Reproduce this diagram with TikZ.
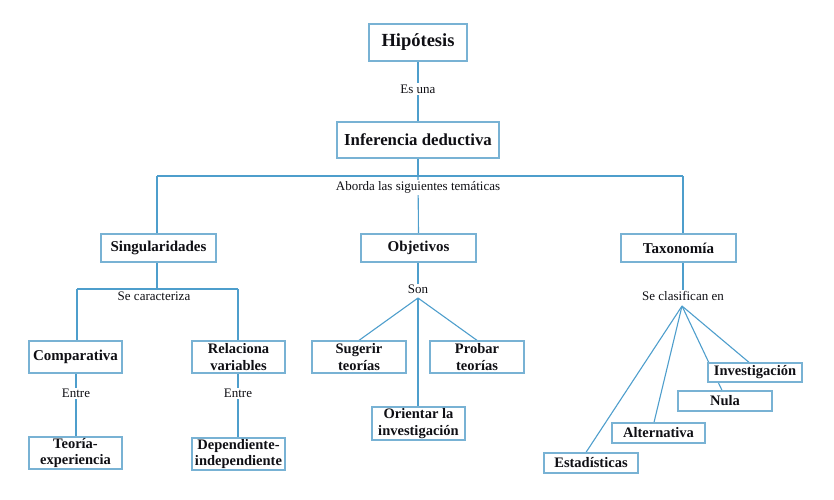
\documentclass[tikz,border=0pt]{standalone}
\usepackage{fontspec}
\setmainfont{Liberation Serif}
\usetikzlibrary{backgrounds,calc}
\definecolor{boxc}{RGB}{120,178,212}
\definecolor{linec}{RGB}{78,158,204}
\definecolor{txt}{RGB}{15,15,20}
\begin{document}
\begin{tikzpicture}[x=1pt,y=-1pt,
  box/.style={draw=boxc,line width=1.3pt,fill=white,inner sep=0pt,align=center,text=txt,
    font=\fontsize{15}{17.5}\selectfont\bfseries},
  twoline/.style={font=\fontsize{14.5}{16.2}\selectfont\bfseries},
  lbl/.style={fill=white,inner sep=1.5pt,text=txt,font=\fontsize{13}{15}\selectfont},
  conn/.style={draw=linec,line width=1.1pt}]
\useasboundingbox (0,0) rectangle (834,499);
% nodes
\node[box,minimum width=98pt,minimum height=37pt,font=\fontsize{18.5}{21}\selectfont\bfseries] (hip) at (418,42.5) {Hipótesis};
\node[box,minimum width=162pt,minimum height=36pt,font=\fontsize{16.8}{19}\selectfont\bfseries] (inf) at (418,140) {Inferencia deductiva};
\node[box,minimum width=115pt,minimum height=28pt] (sing) at (158.5,248) {Singularidades};
\node[box,minimum width=115pt,minimum height=28pt] (obj) at (418.5,248) {Objetivos};
\node[box,minimum width=115pt,minimum height=28pt] (tax) at (678.5,248) {Taxonomía};
\node[box,minimum width=93pt,minimum height=32pt] (comp) at (75.5,357) {Comparativa};
\node[box,twoline,minimum width=93pt,minimum height=32pt] (rel) at (238.5,357) {Relaciona\\variables};
\node[box,twoline,minimum width=93pt,minimum height=32pt] (teo) at (75.5,453) {Teoría-\\experiencia};
\node[box,twoline,minimum width=93pt,minimum height=32pt] (dep) at (238.5,454) {Dependiente-\\independiente};
\node[box,twoline,minimum width=94pt,minimum height=32pt] (sug) at (359,357) {Sugerir\\teorías};
\node[box,twoline,minimum width=94pt,minimum height=32pt] (prob) at (477,357) {Probar\\teorías};
\node[box,twoline,minimum width=93pt,minimum height=33pt] (ori) at (418.5,423.5) {Orientar la\\investigación};
\node[box,twoline,minimum width=94pt,minimum height=19pt] (inv) at (755,372.5) {Investigación};
\node[box,twoline,minimum width=94pt,minimum height=20pt] (nula) at (725,401) {Nula};
\node[box,twoline,minimum width=93pt,minimum height=20pt] (alt) at (658.5,433) {Alternativa};
\node[box,twoline,minimum width=94pt,minimum height=20pt] (est) at (591,463) {Estadísticas};
% labels
\node[lbl] (esuna) at (418,89) {Es una};
\node[lbl] (aborda) at (418,187.5) {Aborda las siguientes temáticas};
\node[lbl] (secar) at (154,296.5) {Se caracteriza};
\node[lbl] (entre1) at (76,393.5) {Entre};
\node[lbl] (entre2) at (238,393.5) {Entre};
\node[lbl,inner sep=0.5pt] (son) at (418,289.5) {Son};
\node[lbl,inner sep=0.5pt] (seclas) at (683,295.5) {Se clasifican en};
\coordinate (hbar1) at (418,176);
\coordinate (hL) at (157,176);
\coordinate (hR) at (683,176);
\coordinate (sbar) at (157,289);
\coordinate (sL) at (77,289);
\coordinate (sR) at (238,289);
\coordinate (sonp) at (418,298);
\coordinate (taxp) at (682,306);
% connectors
\begin{scope}[on background layer]
\draw[conn] (hip.south) -- (inf.north);
\draw[conn] (inf.south) -- (hbar1);
\draw[conn] (hL) -- (hR);
\draw[conn] (hL) -- (hL |- sing.north);
\draw[conn] (hbar1) -- (obj.north);
\draw[conn] (hR) -- (hR |- tax.north);
\draw[conn] (sing.south -| sbar) -- (sbar);
\draw[conn] (sL) -- (sR);
\draw[conn] (sL) -- (sL |- comp.north);
\draw[conn] (sR) -- (sR |- rel.north);
\draw[conn] (comp.south -| entre1) -- (teo.north -| entre1);
\draw[conn] (rel.south -| entre2) -- (dep.north -| entre2);
\draw[conn] (obj.south -| son) -- (son.north);
\draw[conn] (sonp) -- (sug.north);
\draw[conn] (sonp) -- (prob.north);
\draw[conn] (sonp) -- (sonp |- ori.north);
\draw[conn] (tax.south -| hR) -- (seclas.north -| hR);
\draw[conn] (taxp) -- ([xshift=-6pt]inv.north);
\draw[conn] (taxp) -- ([xshift=-3pt]nula.north);
\draw[conn] (taxp) -- ([xshift=-4.5pt]alt.north);
\draw[conn] (taxp) -- ([xshift=-5pt]est.north);
\end{scope}
\end{tikzpicture}
\end{document}
